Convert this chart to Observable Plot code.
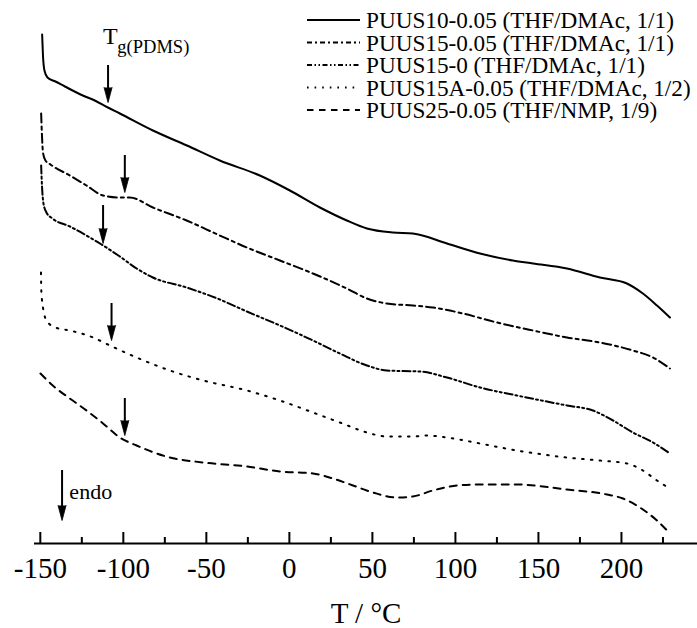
<!DOCTYPE html>
<html>
<head>
<meta charset="utf-8">
<script src="https://cdn.jsdelivr.net/npm/d3@7"></script>
<script src="https://cdn.jsdelivr.net/npm/@observablehq/plot@0.6"></script>
<style>
  body { margin: 0; background: #fff; }
  #wrap { position: relative; width: 697px; height: 628px; background: #fff; }
</style>
</head>
<body>
<div id="wrap"></div>
<script>
// ---------- data (temperature in °C, heat flow in arbitrary offset units) ----------
const seriesNames = [
  "PUUS10-0.05 (THF/DMAc, 1/1)",
  "PUUS15-0.05 (THF/DMAc, 1/1)",
  "PUUS15-0 (THF/DMAc, 1/1)",
  "PUUS15A-0.05 (THF/DMAc, 1/2)",
  "PUUS25-0.05 (THF/NMP, 1/9)"
];

const t1 = [-148.9,-148.4,-147.5,-145.7,-140.9,-135.2,-124.4,-117.2,-109.3,-102.1,-82.2,-61.7,-41.9,-17.8,0.3,18.4,34.6,46.7,62.3,74.4,94.9,114.8,134.6,146.7,167.2,187.0,203.3,212.9,221.4,229.2];
const h1 = [509,488,473,466,462,457,448,443,436,430,413,398,383,368,353,336,323,315,311,310,300,290,283,280,275,266,260,250,238,226];

const t2 = [-149.5,-149.0,-148.4,-146.9,-143.9,-132.2,-122.2,-112.2,-102.1,-96.1,-82.2,-61.9,-41.9,-25.6,-5.7,14.2,34.6,46.7,58.7,74.4,86.4,104.5,125.0,146.7,167.2,187.0,206.9,219.0,229.2];
const h2 = [430,408,391,383,379,368,358,348,346,346,336,323,308,296,283,270,255,245,240,238,236,230,221,213,206,201,193,186,175];

const t3 = [-149.5,-149.0,-148.1,-146.3,-142.7,-132.2,-122.2,-113.1,-102.1,-92.0,-82.2,-61.9,-41.9,-25.6,-5.7,14.2,30.4,46.7,58.7,78.6,94.9,114.8,137.0,167.2,182.8,194.9,206.9,219.0,229.2];
const h3 = [378,358,340,331,325,317,308,299,287,275,266,256,244,232,218,203,190,178,173,172,166,156,148,138,133,123,111,101,90];

const t4 = [-149.6,-149.4,-148.1,-145.9,-140.9,-132.2,-118.2,-108.1,-92.0,-72.0,-51.9,-25.6,-5.7,14.2,30.4,46.7,58.7,74.4,82.8,94.9,114.8,137.0,167.2,187.0,203.3,212.9,221.4,228.0];
const h4 = [271,253,233,222,216,213,206,198,186,173,163,153,143,131,121,111,107,107,108,106,100,93,86,83,80,73,63,56];

const t5 = [-149.9,-142.5,-132.2,-122.2,-112.2,-102.1,-92.0,-72.0,-51.9,-25.6,-5.7,14.2,26.2,38.3,50.3,64.8,74.4,86.4,100.9,114.8,137.0,167.2,191.3,200.9,211.1,221.4,229.2];
const h5 = [170,158,145,133,120,106,98,86,81,77,72,70,65,58,51,46,47,53,58,59,59,54,49,45,36,23,10];

// x axis ticks
const tickValues = [-150, -100, -50, 0, 50, 100, 150, 200];
const minorTicks = [-125, -75, -25, 25, 75, 125, 175, 225];

// Tg arrows (one per curve) and endo arrow
const arrowT   = [-109.2, -99.1, -112.2, -107.1, -99.1, -136.9];
const arrowTop = [478, 388, 338, 240, 145, 73];
const arrowTip = [441, 351, 300, 203, 108, 23];

// annotation texts
const tgMainLabel = ["T"];       const tgMainPos = [-112.2, 500];
const tgSubLabel  = ["g(PDMS)"]; const tgSubPos  = [-103.6, 491];
const endoLabel   = ["endo"];    const endoPos   = [-132.5, 45];
const xLabel      = ["T / °C"];

// ---------- styles ----------
const curveDash  = [null, "9 4 3 4", "8 3 2 3 2 3", "1.6 7.2", "7 6"];
const legendDash = [null, "5 3 2 3", "5 2.5 1.5 2.5 1.5 2.5", "1.6 6", "6.5 5.5"];
const serif = "'Liberation Serif', 'Times New Roman', serif";

const series = [[t1,h1],[t2,h2],[t3,h3],[t4,h4],[t5,h5]].map(([t,h], i) =>
  t.map((T, j) => ({series: seriesNames[i], T, H: h[j]})));

const arrows = arrowT.map((T, i) => ({T, top: arrowTop[i], tip: arrowTip[i]}));

const marks = [];
series.forEach((d, i) => {
  marks.push(Plot.line(d, {
    x: "T", y: "H", curve: "monotone-x",
    stroke: "black", strokeWidth: 2,
    strokeDasharray: curveDash[i] ?? undefined
  }));
});

// axis baseline and inward ticks
marks.push(Plot.ruleY([0], {stroke: "black", strokeWidth: 2}));
marks.push(Plot.ruleX(tickValues, {x: d => d, y1: 0, y2: 11, stroke: "black", strokeWidth: 2}));
marks.push(Plot.ruleX(minorTicks, {x: d => d, y1: 0, y2: 6, stroke: "black", strokeWidth: 2}));
marks.push(Plot.axisX(tickValues, {
  tickSize: 0, tickPadding: 14, fontSize: 29, label: null,
  tickFormat: d => String(d)
}));

// arrows
marks.push(Plot.ruleX(arrows, {x: "T", y1: "top", y2: d => d.tip + 10, stroke: "black", strokeWidth: 2}));
marks.push(Plot.vector(arrows, {
  x: "T", y: "tip", length: 15, r: 4, rotate: 180, anchor: "end", shape: "spike",
  fill: "black", fillOpacity: 1, stroke: "black", strokeWidth: 0.8
}));

// annotations
marks.push(Plot.text(tgMainLabel, {x: () => tgMainPos[0], y: () => tgMainPos[1], text: d => d,
  textAnchor: "start", lineAnchor: "bottom", fontSize: 24}));
marks.push(Plot.text(tgSubLabel, {x: () => tgSubPos[0], y: () => tgSubPos[1], text: d => d,
  textAnchor: "start", lineAnchor: "bottom", fontSize: 18.5}));
marks.push(Plot.text(endoLabel, {x: () => endoPos[0], y: () => endoPos[1], text: d => d,
  textAnchor: "start", lineAnchor: "bottom", fontSize: 22}));
marks.push(Plot.text(xLabel, {frameAnchor: "bottom", text: d => d, dy: 79,
  lineAnchor: "bottom", textAnchor: "middle", fontSize: 29, ariaLabel: "xlabel"}));

const chart = Plot.plot({
  width: 697,
  height: 628,
  marginLeft: 34,
  marginRight: 0,
  marginTop: 0,
  marginBottom: 85,
  style: {fontFamily: serif, color: "black", background: "white", overflow: "visible"},
  x: {domain: [-153.5, 245.8]},
  y: {domain: [0, 543], axis: null},
  marks
});

// rich formatting of the x-axis label (italic T, superscript o)
const xl = chart.querySelector('g[aria-label="xlabel"] text');
if (xl) {
  xl.textContent = "";
  const ns = "http://www.w3.org/2000/svg";
  const add = (txt, attrs) => {
    const s = document.createElementNS(ns, "tspan");
    s.textContent = txt;
    for (const k in attrs) s.setAttribute(k, attrs[k]);
    xl.appendChild(s);
  };
  add("T", {"font-style": "italic"});
  add("\u00a0/\u00a0", {});
  add("o", {"font-size": 19, dy: -13});
  add("C", {dy: 13});
}

const wrap = document.getElementById("wrap");
wrap.appendChild(chart);

// legend (top right, inside the plot area)
const leg = d3.create("svg")
  .attr("width", 697).attr("height", 130)
  .style("position", "absolute").style("left", "0px").style("top", "0px")
  .style("font-family", serif);
seriesNames.forEach((name, i) => {
  const y = 20 + 22.5 * i;
  const ln = leg.append("line")
    .attr("x1", 307).attr("x2", 360).attr("y1", y).attr("y2", y)
    .attr("stroke", "black").attr("stroke-width", 2);
  if (legendDash[i]) ln.attr("stroke-dasharray", legendDash[i]);
  leg.append("text").attr("x", 366).attr("y", y + 8)
    .attr("font-size", 23.2).attr("fill", "black").text(name);
});
wrap.appendChild(leg.node());
</script>
</body>
</html>
